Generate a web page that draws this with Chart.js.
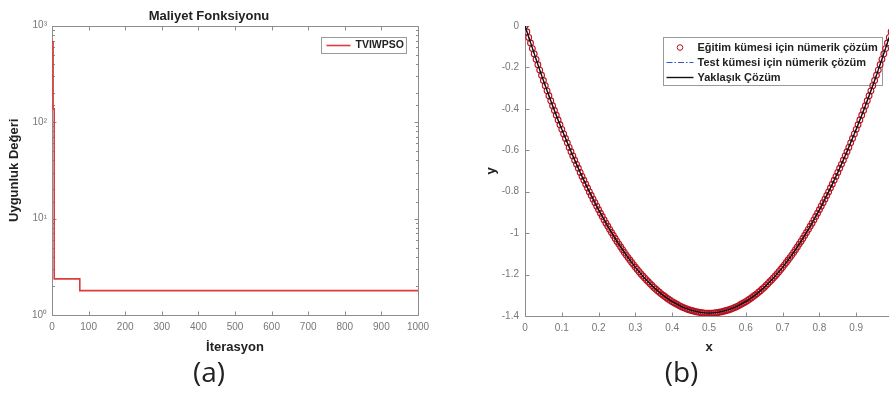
<!DOCTYPE html>
<html>
<head>
<meta charset="utf-8">
<script src="https://cdn.jsdelivr.net/npm/chart.js@4/dist/chart.umd.min.js"></script>
<style>
html,body{margin:0;padding:0;overflow:hidden;background:#fff;}
body{width:889px;height:395px;position:relative;}
.wrap{position:absolute;top:0;}
</style>
</head>
<body>
<div class="wrap" style="left:0;width:470px;height:395px"><canvas id="ca" width="470" height="395"></canvas></div>
<div class="wrap" style="left:470px;width:478px;height:395px"><canvas id="cb" width="478" height="395"></canvas></div>
<script>
// ---- (a) cost function data ----
const iterations = [0, 3, 6, 76, 1000];
const bestCost = [680, 137, 2.37, 1.79, 1.79];
const costTicksX = [0,100,200,300,400,500,600,700,800,900,1000];

// ---- (b) solution data ----
const xTrain = [0,0.005,0.01,0.015,0.02,0.025,0.03,0.035,0.04,0.045,0.05,0.055,0.06,0.065,0.07,0.075,0.08,0.085,0.09,0.095,0.1,0.105,0.11,0.115,0.12,0.125,0.13,0.135,0.14,0.145,0.15,0.155,0.16,0.165,0.17,0.175,0.18,0.185,0.19,0.195,0.2,0.205,0.21,0.215,0.22,0.225,0.23,0.235,0.24,0.245,0.25,0.255,0.26,0.265,0.27,0.275,0.28,0.285,0.29,0.295,0.3,0.305,0.31,0.315,0.32,0.325,0.33,0.335,0.34,0.345,0.35,0.355,0.36,0.365,0.37,0.375,0.38,0.385,0.39,0.395,0.4,0.405,0.41,0.415,0.42,0.425,0.43,0.435,0.44,0.445,0.45,0.455,0.46,0.465,0.47,0.475,0.48,0.485,0.49,0.495,0.5,0.505,0.51,0.515,0.52,0.525,0.53,0.535,0.54,0.545,0.55,0.555,0.56,0.565,0.57,0.575,0.58,0.585,0.59,0.595,0.6,0.605,0.61,0.615,0.62,0.625,0.63,0.635,0.64,0.645,0.65,0.655,0.66,0.665,0.67,0.675,0.68,0.685,0.69,0.695,0.7,0.705,0.71,0.715,0.72,0.725,0.73,0.735,0.74,0.745,0.75,0.755,0.76,0.765,0.77,0.775,0.78,0.785,0.79,0.795,0.8,0.805,0.81,0.815,0.82,0.825,0.83,0.835,0.84,0.845,0.85,0.855,0.86,0.865,0.87,0.875,0.88,0.885,0.89,0.895,0.9,0.905,0.91,0.915,0.92,0.925,0.93,0.935,0.94,0.945,0.95,0.955,0.96,0.965,0.97,0.975,0.98,0.985,0.99,0.995,1];
const yTrain = [0,-0.028,-0.055,-0.082,-0.109,-0.135,-0.161,-0.187,-0.213,-0.238,
-0.263,-0.288,-0.313,-0.337,-0.361,-0.385,-0.408,-0.431,-0.454,-0.477,
-0.499,-0.521,-0.543,-0.564,-0.586,-0.607,-0.627,-0.648,-0.668,-0.687,
-0.707,-0.726,-0.745,-0.764,-0.782,-0.801,-0.818,-0.836,-0.853,-0.870,
-0.887,-0.904,-0.920,-0.936,-0.952,-0.967,-0.982,-0.997,-1.011,-1.026,
-1.040,-1.053,-1.067,-1.080,-1.093,-1.106,-1.118,-1.130,-1.142,-1.153,
-1.165,-1.175,-1.186,-1.197,-1.207,-1.216,-1.226,-1.235,-1.244,-1.253,
-1.262,-1.270,-1.278,-1.285,-1.293,-1.300,-1.306,-1.313,-1.319,-1.325,
-1.331,-1.336,-1.341,-1.346,-1.351,-1.355,-1.359,-1.363,-1.366,-1.370,
-1.372,-1.375,-1.377,-1.380,-1.381,-1.383,-1.384,-1.385,-1.386,-1.386,
-1.386,
-1.386,-1.386,-1.385,-1.384,-1.383,-1.381,-1.380,-1.377,-1.375,-1.372,
-1.370,-1.366,-1.363,-1.359,-1.355,-1.351,-1.346,-1.341,-1.336,-1.331,
-1.325,-1.319,-1.313,-1.306,-1.300,-1.293,-1.285,-1.278,-1.270,-1.262,
-1.253,-1.244,-1.235,-1.226,-1.216,-1.207,-1.197,-1.186,-1.175,-1.165,
-1.153,-1.142,-1.130,-1.118,-1.106,-1.093,-1.080,-1.067,-1.053,-1.040,
-1.026,-1.011,-0.997,-0.982,-0.967,-0.952,-0.936,-0.920,-0.904,-0.887,
-0.870,-0.853,-0.836,-0.818,-0.801,-0.782,-0.764,-0.745,-0.726,-0.707,
-0.687,-0.668,-0.648,-0.627,-0.607,-0.586,-0.564,-0.543,-0.521,-0.499,
-0.477,-0.454,-0.431,-0.408,-0.385,-0.361,-0.337,-0.313,-0.288,-0.263,
-0.238,-0.213,-0.187,-0.161,-0.135,-0.109,-0.082,-0.055,-0.028,0];
const xTest = [0,0.05,0.1,0.15,0.2,0.25,0.3,0.35,0.4,0.45,0.5,0.55,0.6,0.65,0.7,0.75,0.8,0.85,0.9,0.95,1];
const yTest = [0,-0.263,-0.499,-0.707,-0.887,-1.040,-1.165,-1.262,-1.331,-1.372,-1.386,-1.372,-1.331,-1.262,-1.165,-1.040,-0.887,-0.707,-0.499,-0.263,0];
const yApprox = [0,-0.263,-0.499,-0.707,-0.887,-1.040,-1.165,-1.262,-1.331,-1.372,-1.386,-1.372,-1.331,-1.262,-1.165,-1.040,-0.887,-0.707,-0.499,-0.263,0];

const labelsB = ['Eğitim kümesi için nümerik çözüm', 'Test kümesi için nümerik çözüm', 'Yaklaşık Çözüm'];

const FONT = "'Liberation Sans', Arial, Helvetica, sans-serif";
const AXIS_COLOR = '#8c8c8c';
const TICK_COLOR = '#777777';

// axes frame with inward tick marks, drawn from the library's scales
const framePlugin = {
  id: 'frame',
  beforeDatasetsDraw(chart, args, opts) {
    const box = opts && opts.box;
    const {ctx, chartArea: a, scales} = chart;
    ctx.save();
    ctx.strokeStyle = AXIS_COLOR;
    ctx.lineWidth = 1;
    ctx.beginPath();
    const L = Math.round(a.left) + 0.5, R = Math.round(a.right) + 0.5;
    const T = Math.round(a.top) + 0.5, B = Math.round(a.bottom) + 0.5;
    ctx.moveTo(L, T); ctx.lineTo(L, B); ctx.lineTo(R, B);
    if (box) { ctx.lineTo(R, T); ctx.lineTo(L, T); }
    const xs = scales.x, ys = scales.y;
    xs.ticks.forEach(t => {
      const px = Math.round(xs.getPixelForValue(t.value)) + 0.5;
      ctx.moveTo(px, B); ctx.lineTo(px, B - 4);
      if (box) { ctx.moveTo(px, T); ctx.lineTo(px, T + 4); }
    });
    ys.ticks.forEach(t => {
      let len = 4;
      if (ys.type === 'logarithmic') {
        const lg = Math.log10(t.value);
        if (Math.abs(lg - Math.round(lg)) > 1e-9) len = 2.5;
      }
      const py = Math.round(ys.getPixelForValue(t.value)) + 0.5;
      ctx.moveTo(L, py); ctx.lineTo(L + len, py);
      if (box) { ctx.moveTo(R, py); ctx.lineTo(R - len, py); }
    });
    ctx.stroke();
    ctx.restore();
  }
};

// boxed legend inside the plot area
const boxLegend = {
  id: 'boxLegend',
  beforeDatasetsDraw(chart, args, o) {
    if (!o || !o.width) return;
    const {ctx, chartArea: a} = chart;
    const x = Math.round(a.right - o.right - o.width) + 0.5;
    const y = Math.round(a.top + o.top) + 0.5;
    ctx.save();
    ctx.fillStyle = '#fff';
    ctx.fillRect(x, y, o.width, o.height);
    ctx.strokeStyle = '#9a9a9a';
    ctx.lineWidth = 1;
    ctx.strokeRect(x, y, o.width, o.height);
    ctx.font = 'bold ' + o.fontSize + 'px ' + FONT;
    ctx.textBaseline = 'middle';
    ctx.textAlign = 'left';
    chart.data.datasets.forEach((ds, i) => {
      const cy = y + o.rowTop + i * o.rowGap;
      const sx = x + o.sampleX, sw = o.sampleW;
      if (ds.showLine === false) {
        ctx.beginPath();
        ctx.strokeStyle = ds.pointBorderColor;
        ctx.lineWidth = 1;
        ctx.arc(sx + sw / 2, cy, 2.8, 0, Math.PI * 2);
        ctx.stroke();
      } else {
        ctx.beginPath();
        ctx.strokeStyle = ds.borderColor;
        ctx.lineWidth = ds.borderWidth || 1;
        ctx.setLineDash(ds.borderDash || []);
        ctx.moveTo(sx, cy); ctx.lineTo(sx + sw, cy);
        ctx.stroke();
        ctx.setLineDash([]);
      }
      ctx.fillStyle = '#222';
      ctx.fillText(ds.label, x + o.textX, cy);
    });
    ctx.restore();
  }
};

const tickFont = {family: FONT, size: 10};
const titleFont = {family: FONT, size: 13, weight: 'bold', lineHeight: 1.2};
const capFont = {family: "'Open Sans', 'Noto Sans', sans-serif", size: 28, lineHeight: 1.0};
const numLabel = v => String(Number(Number(v).toFixed(2)));

// ---- chart (a) ----
new Chart(document.getElementById('ca'), {
  type: 'line',
  data: {
    datasets: [{
      label: 'TVIWPSO',
      data: iterations.map((it, i) => ({x: it, y: bestCost[i]})),
      borderColor: '#dc3c3c',
      borderWidth: 1.6,
      pointRadius: 0,
      stepped: 'before',
      fill: false
    }]
  },
  options: {
    responsive: false,
    animation: false,
    devicePixelRatio: 1,
    layout: {padding: {top: 0, left: 0, right: 52, bottom: 0}},
    plugins: {
      legend: {display: false},
      tooltip: {enabled: false},
      title: {display: true, text: 'Maliyet Fonksiyonu', color: '#222', font: titleFont, padding: {top: 9, bottom: 1}},
      subtitle: {display: true, text: '(a)', position: 'bottom', color: '#222', font: capFont, padding: {top: 3, bottom: 7}},
      frame: {box: true},
      boxLegend: {width: 85, height: 16, right: 12, top: 11, rowTop: 8, rowGap: 15, sampleX: 5, sampleW: 24, textX: 34, fontSize: 10.5}
    },
    scales: {
      x: {
        type: 'linear', min: 0, max: 1000,
        afterBuildTicks: s => { s.ticks = costTicksX.map(v => ({value: v})); },
        afterFit: s => { s.height = 42; },
        grid: {display: false, drawTicks: false},
        border: {display: false},
        ticks: {color: TICK_COLOR, font: tickFont, padding: 6, maxRotation: 0, autoSkip: false, callback: v => String(v)},
        title: {display: true, text: 'İterasyon', color: '#222', font: titleFont, padding: {top: 0, bottom: 2}}
      },
      y: {
        type: 'logarithmic', min: 1, max: 1000,
        afterFit: s => { s.width = 52; },
        grid: {display: false, drawTicks: false},
        border: {display: false},
        ticks: {
          color: TICK_COLOR, font: tickFont, padding: 5, autoSkip: false,
          callback: v => {
            const lg = Math.log10(v);
            if (Math.abs(lg - Math.round(lg)) > 1e-9) return '';
            return '10' + ['⁰','¹','²','³'][Math.round(lg)];
          }
        },
        title: {display: true, text: 'Uygunluk Değeri', color: '#222', font: titleFont, padding: {top: 7, bottom: 0}}
      }
    }
  },
  plugins: [framePlugin, boxLegend]
});

// ---- chart (b) ----
new Chart(document.getElementById('cb'), {
  type: 'line',
  data: {
    datasets: [{
      label: labelsB[0],
      data: xTrain.map((x, i) => ({x: x, y: yTrain[i]})),
      showLine: false,
      pointStyle: 'circle',
      pointRadius: 2.9,
      pointBorderWidth: 1.1,
      pointBorderColor: '#b8121f',
      pointBackgroundColor: 'rgba(0,0,0,0)',
      order: 2
    }, {
      label: labelsB[1],
      data: xTest.map((x, i) => ({x: x, y: yTest[i]})),
      borderColor: '#2f55d4',
      borderWidth: 1,
      borderDash: [6, 2, 1.5, 2],
      pointRadius: 0,
      cubicInterpolationMode: 'monotone',
      fill: false,
      order: 1
    }, {
      label: labelsB[2],
      data: xTest.map((x, i) => ({x: x, y: yApprox[i]})),
      borderColor: '#111111',
      borderWidth: 1.4,
      pointRadius: 0,
      cubicInterpolationMode: 'monotone',
      fill: false,
      order: 0
    }]
  },
  options: {
    responsive: false,
    animation: false,
    devicePixelRatio: 1,
    layout: {padding: {top: 26, left: 0, right: 55, bottom: 0}},
    plugins: {
      legend: {display: false},
      tooltip: {enabled: false},
      subtitle: {display: true, text: '(b)', position: 'bottom', color: '#222', font: capFont, padding: {top: 3, bottom: 7}},
      frame: {box: false},
      boxLegend: {width: 219, height: 48, right: 11, top: 11, rowTop: 10, rowGap: 15, sampleX: 3, sampleW: 27, textX: 34, fontSize: 11}
    },
    scales: {
      x: {
        type: 'linear', min: 0, max: 1,
        afterFit: s => { s.height = 41; },
        grid: {display: false, drawTicks: false},
        border: {display: false},
        ticks: {stepSize: 0.1, color: TICK_COLOR, font: tickFont, padding: 6, maxRotation: 0, autoSkip: false, callback: numLabel},
        title: {display: true, text: 'x', color: '#222', font: titleFont, padding: {top: 0, bottom: 2}}
      },
      y: {
        type: 'linear', min: -1.4, max: 0,
        afterFit: s => { s.width = 55; },
        grid: {display: false, drawTicks: false},
        border: {display: false},
        ticks: {stepSize: 0.2, color: TICK_COLOR, font: tickFont, padding: 6, autoSkip: false, callback: numLabel},
        title: {display: true, text: 'y', color: '#222', font: titleFont, padding: {top: 14, bottom: 0}}
      }
    }
  },
  plugins: [framePlugin, boxLegend]
});
</script>
</body>
</html>
